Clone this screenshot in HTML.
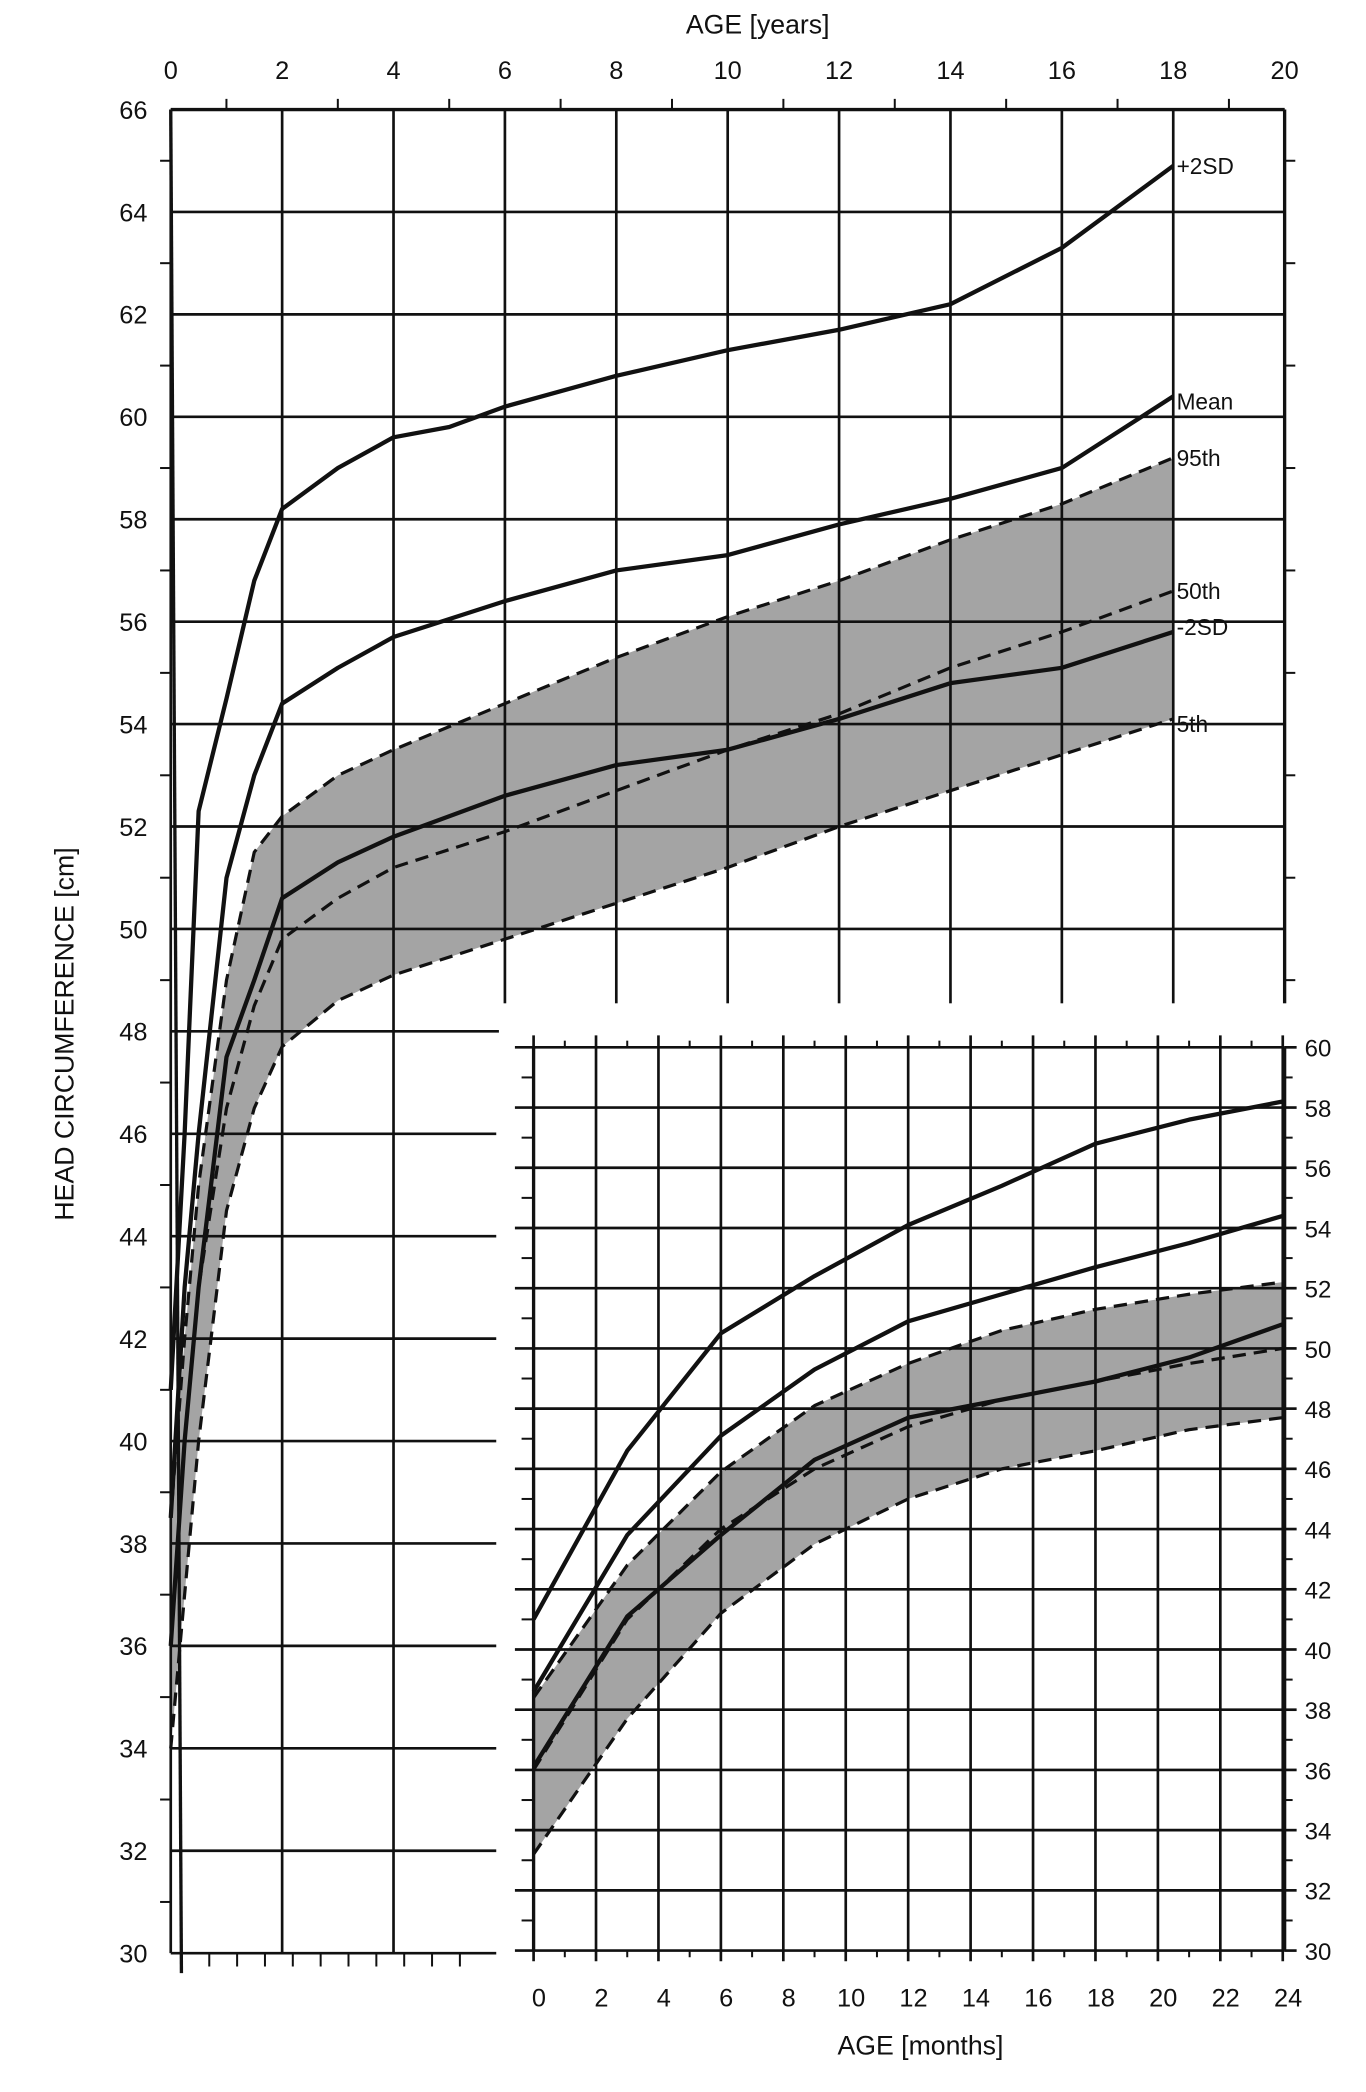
<!DOCTYPE html>
<html><head><meta charset="utf-8"><style>
html,body{margin:0;padding:0;background:#fff;}
svg{display:block}
text{font-family:"Liberation Sans",sans-serif;fill:#111}
</style></head><body>
<svg id="s" width="1366" height="2092" viewBox="0 0 1024 1568" xmlns="http://www.w3.org/2000/svg">
<defs><linearGradient id="g" x1="0" x2="1" y1="0" y2="0"><stop offset="0" stop-color="#a8a8a8"/><stop offset="1" stop-color="#999"/></linearGradient></defs>
</svg>
<script>
var s=document.getElementById('s'),NS='http://www.w3.org/2000/svg';
function el(t,a,txt){var e=document.createElementNS(NS,t);for(var k in a)e.setAttribute(k,a[k]);if(txt!=null)e.textContent=txt;s.appendChild(e);return e;}
function ln(x1,y1,x2,y2,w){el('line',{x1:x1,y1:y1,x2:x2,y2:y2,stroke:'#111','stroke-width':w||2});}
// main scales
function X(a){return 128+a*41.75;}
function Y(v){return 82+(66-v)*38.39;}
function mx(m){return 400+m*23.4;}
function my(v){return 785+(60-v)*22.57;}
function pts(arr,fx,fy){return arr.map(function(p){return fx(p[0]).toFixed(1)+','+fy(p[1]).toFixed(1)}).join(' ');}
// main curves data
var P2=[[0,41],[0.25,46],[0.5,52.3],[1,54.5],[1.5,56.8],[2,58.2],[3,59],[4,59.6],[5,59.8],[6,60.2],[8,60.8],[10,61.3],[12,61.7],[14,62.2],[16,63.3],[18,64.9]];
var ME=[[0,38.5],[0.25,43],[0.5,46],[1,51],[1.5,53],[2,54.4],[3,55.1],[4,55.7],[6,56.4],[8,57],[10,57.3],[12,57.9],[14,58.4],[16,59],[18,60.4]];
var M2=[[0,36],[0.25,40],[0.5,43],[1,47.5],[1.5,49],[2,50.6],[3,51.3],[4,51.8],[6,52.6],[8,53.2],[10,53.5],[12,54.1],[14,54.8],[16,55.1],[18,55.8]];
var T95=[[0,38.5],[0.25,42],[0.5,45],[1,49],[1.5,51.5],[2,52.2],[3,53],[4,53.5],[6,54.4],[8,55.3],[10,56.1],[12,56.8],[14,57.6],[16,58.3],[18,59.2]];
var T50=[[0,36],[0.25,40],[0.5,43],[1,46.5],[1.5,48.5],[2,49.8],[3,50.6],[4,51.2],[6,51.9],[8,52.7],[10,53.5],[12,54.2],[14,55.1],[16,55.8],[18,56.6]];
var T5=[[0,34],[0.25,37],[0.5,40],[1,44.5],[1.5,46.5],[2,47.7],[3,48.6],[4,49.1],[6,49.8],[8,50.5],[10,51.2],[12,52],[14,52.7],[16,53.4],[18,54.1]];
// shade main
el('polygon',{points:pts(T95,X,Y)+' '+pts(T5.slice().reverse(),X,Y),fill:'#a4a4a4'});
// main grid
for(var v=30;v<=66;v+=2){var xe=v>=48?963:372;ln(128,Y(v),xe,Y(v),2);el('text',{x:100,y:Y(v)+7,'font-size':19,'text-anchor':'middle'},String(v));}
for(var v=31;v<66;v+=2){ln(120,Y(v),128,Y(v),1.5);ln(963,Y(v),971,Y(v),1.5);}
for(var a=0;a<=20;a+=2){var yb=(a<=4)?Y(30):Y(48);ln(X(a),Y(66),X(a),yb,2);el('text',{x:X(a),y:59,'font-size':19,'text-anchor':'middle'},String(a));}
for(var a=1;a<20;a+=2){ln(X(a),Y(66),X(a),Y(66)-8,1.5);}
ln(128,Y(66),963,Y(66),2.5);ln(963,Y(66),963,Y(48),2.5);ln(128,Y(66),136,Y(30)+15,2.5);
for(var a=0;a<=5;a+=0.5){ln(X(a)+8,Y(30),X(a)+8,Y(30)+10,1.5);}
// curves
function curve(d,fx,fy,dash){var o={points:pts(d,fx,fy),fill:'none',stroke:'#111','stroke-width':3.2,'stroke-linejoin':'round'};if(dash){o['stroke-dasharray']='10,6';o['stroke-width']=2.4;}el('polyline',o);}
curve(T95,X,Y,1);curve(T50,X,Y,1);curve(T5,X,Y,1);curve(P2,X,Y);curve(ME,X,Y);curve(M2,X,Y);
var lb=[['+2SD',64.9],['Mean',60.3],['95th',59.2],['50th',56.6],['-2SD',55.9],['5th',54.0]];
lb.forEach(function(l){el('text',{x:882,y:Y(l[1])+6,'font-size':17},l[0]);});
el('text',{x:568,y:25,'font-size':20,'text-anchor':'middle'},'AGE  [years]');
el('text',{x:0,y:0,'font-size':20,'text-anchor':'middle',transform:'translate(55,775) rotate(-90)'},'HEAD CIRCUMFERENCE  [cm]');
// inset
el('rect',{x:374,y:752,width:606,height:740,fill:'#fff'});
var I2=[[0,41],[3,46.6],[6,50.5],[9,52.4],[12,54.1],[15,55.4],[18,56.8],[21,57.6],[24,58.2]];
var IM=[[0,38.6],[3,43.8],[6,47.1],[9,49.3],[12,50.9],[15,51.8],[18,52.7],[21,53.5],[24,54.4]];
var IS=[[0,36.1],[3,41.1],[6,43.8],[9,46.3],[12,47.7],[15,48.3],[18,48.9],[21,49.7],[24,50.8]];
var I95=[[0,38.4],[3,42.8],[6,45.9],[9,48.1],[12,49.5],[15,50.6],[18,51.3],[21,51.8],[24,52.2]];
var I50=[[0,36],[3,41],[6,44],[9,46],[12,47.4],[15,48.3],[18,48.9],[21,49.5],[24,50]];
var I5=[[0,33.2],[3,37.7],[6,41.2],[9,43.5],[12,45],[15,46],[18,46.6],[21,47.3],[24,47.7]];
el('polygon',{points:pts(I95,mx,my)+' '+pts(I5.slice().reverse(),mx,my),fill:'#a4a4a4'});
for(var v=30;v<=60;v+=2){ln(386,my(v),963,my(v),2);ln(963,my(v),972,my(v),2);el('text',{x:988,y:my(v)+7,'font-size':18,'text-anchor':'middle'},String(v));}
for(var v=31;v<60;v+=2){ln(391,my(v),400,my(v),1.5);ln(963,my(v),969,my(v),1.5);}
for(var m=0;m<=24;m+=2){ln(mx(m),my(60)-9,mx(m),my(30)+8,2);el('text',{x:mx(m)+4,y:1504,'font-size':19,'text-anchor':'middle'},String(m));}
for(var m=1;m<24;m+=2){ln(mx(m),my(60)-5,mx(m),my(60),1.5);ln(mx(m),my(30),mx(m),my(30)+5,1.5);}
ln(400,my(60),400,my(30),2.5);ln(963,my(60),963,my(30),2.5);
curve(I95,mx,my,1);curve(I50,mx,my,1);curve(I5,mx,my,1);curve(I2,mx,my);curve(IM,mx,my);curve(IS,mx,my);
el('text',{x:690,y:1540,'font-size':20,'text-anchor':'middle'},'AGE  [months]');
</script>
</body></html>
